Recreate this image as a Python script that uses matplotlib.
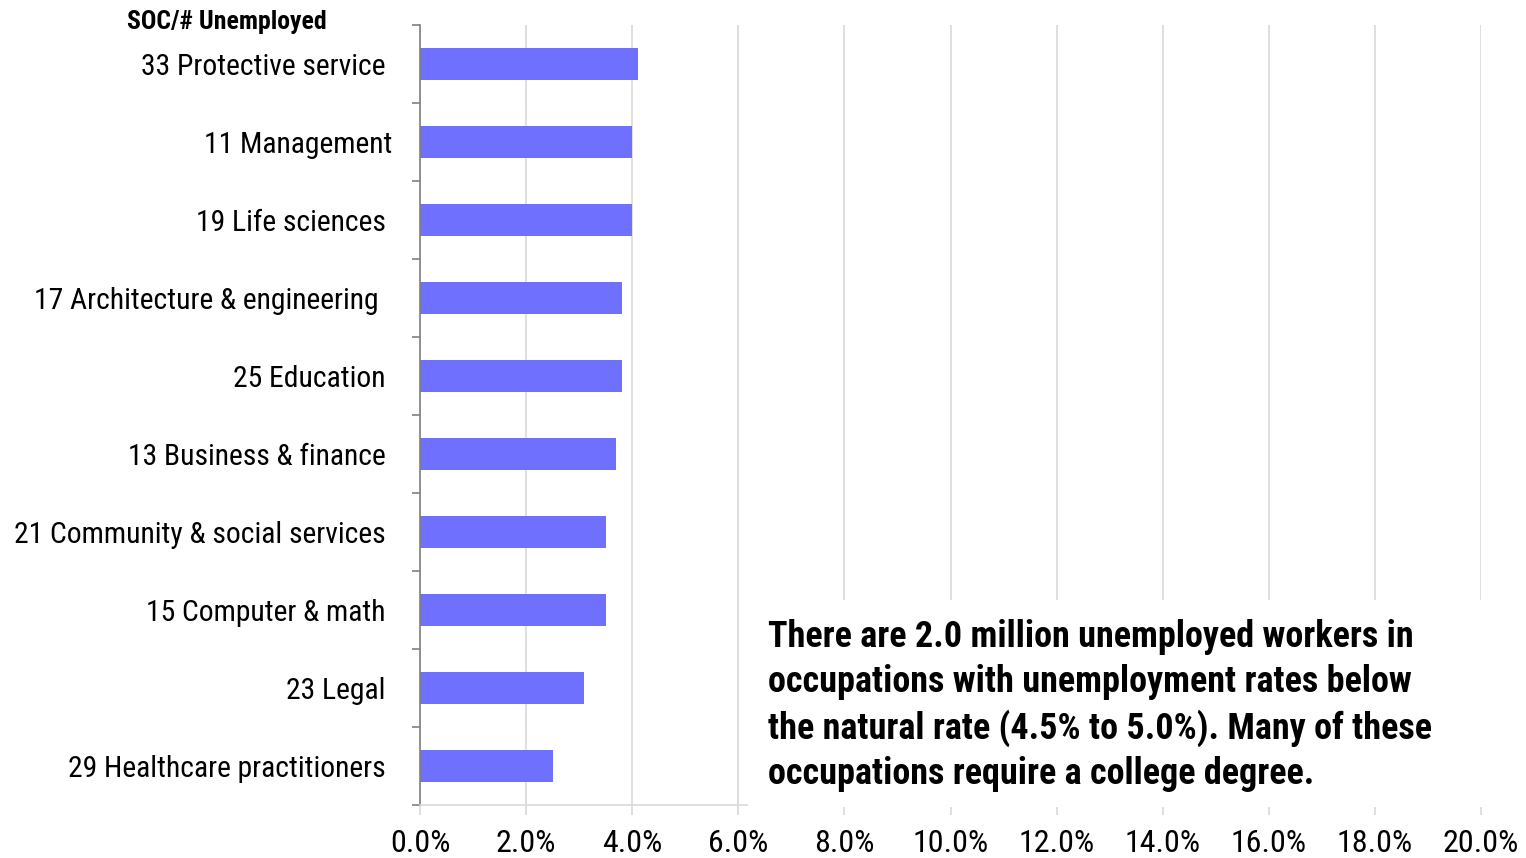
import matplotlib
matplotlib.use("Agg")
import matplotlib.pyplot as plt
from matplotlib.patches import Rectangle

# occupations, top to bottom
occupations = [
    "33 Protective service ",
    "11 Management",
    "19 Life sciences ",
    "17 Architecture & engineering  ",
    "25 Education ",
    "13 Business & finance ",
    "21 Community & social services ",
    "15 Computer & math ",
    "23 Legal ",
    "29 Healthcare practitioners ",
]
rates = [4.1, 4.0, 4.0, 3.8, 3.8, 3.7, 3.5, 3.5, 3.1, 2.5]
xticks = [0, 2, 4, 6, 8, 10, 12, 14, 16, 18, 20]

note = ("There are 2.0 million unemployed workers in\n"
        "occupations with unemployment rates below\n"
        "the natural rate (4.5% to 5.0%). Many of these\n"
        "occupations require a college degree.")

plt.rcParams['font.family'] = ['Roboto Condensed', 'DejaVu Sans']

fig = plt.figure(figsize=(15.26, 8.58), dpi=100)
ax = fig.add_axes([420 / 1526, 1 - 805 / 858, 1061 / 1526, 780 / 858])

ypos = list(range(len(occupations)))
ax.barh(ypos, rates, height=0.41, color='#7070FF', zorder=2)

ax.set_xlim(0, 20)
ax.set_ylim(len(occupations) - 0.5, -0.5)
ax.set_xticks(xticks)
ax.set_xticklabels([f"{v:.1f}%" for v in xticks], fontsize=23)
ax.set_yticks(ypos)
ax.set_yticklabels(occupations, fontsize=21.3)
ax.set_yticks([i - 0.5 for i in range(len(occupations) + 1)], minor=True)

ax.tick_params(axis='y', which='major', length=0, pad=20)
ax.tick_params(axis='y', which='minor', length=6, color='#808080', width=1.2)
ax.tick_params(axis='x', length=7, color='#d9d9d9', width=1.2, pad=10)

ax.set_axisbelow(True)
ax.grid(axis='x', color='#d9d9d9', linewidth=1.2)
for s in ['top', 'right']:
    ax.spines[s].set_visible(False)
ax.spines['left'].set_color('#808080')
ax.spines['left'].set_linewidth(1.2)
ax.spines['bottom'].set_color('#d9d9d9')
ax.spines['bottom'].set_linewidth(1.2)

# white box hiding the lower right of the grid
box = Rectangle((0.309, -0.003), 0.75, 0.266, transform=ax.transAxes,
                facecolor='white', edgecolor='none', zorder=3, clip_on=False)
ax.add_patch(box)

fig.text(768 / 1526, 1 - 619 / 858, note, fontsize=26, fontweight='bold',
         va='top', ha='left', linespacing=1.32)
fig.text(127 / 1526, 1 - 22 / 858, "SOC/# Unemployed", fontsize=18.5,
         fontweight='bold', va='center', ha='left')

fig.savefig("out.png", dpi=100)
